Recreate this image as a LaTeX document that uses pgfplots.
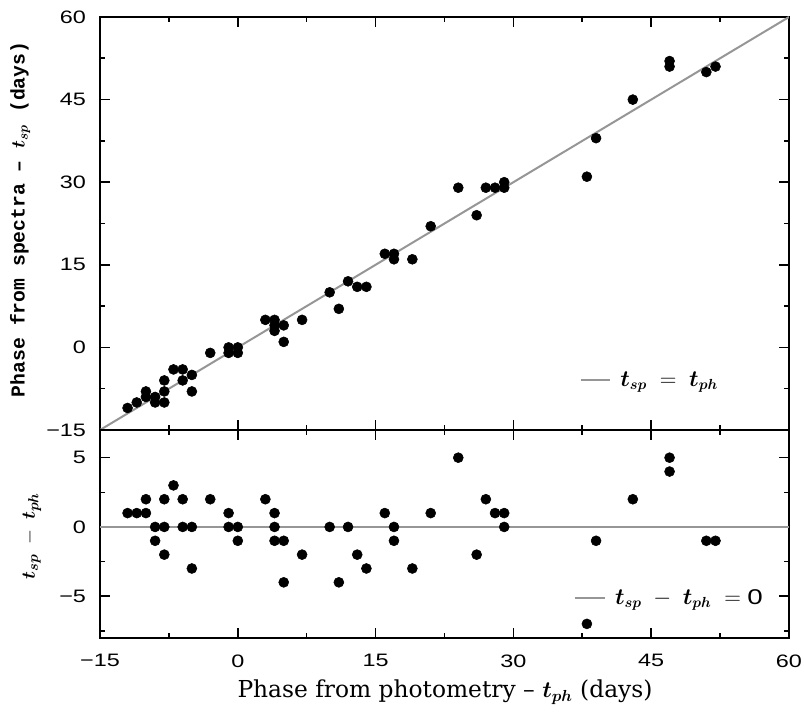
\documentclass[border=0pt]{standalone}
\usepackage{pgfplots}
\pgfplotsset{compat=1.18}
\usepackage{fontspec}
\setmainfont{Liberation Sans}
\newfontfamily\tickfont[FakeStretch=1.3]{Liberation Sans}
\newfontfamily\monofont{Liberation Mono}
\newfontfamily\seriffont{DejaVu Serif}
\usepackage{bm}
\definecolor{lgray}{RGB}{150,150,150}
\pgfplotsset{myax/.style={
  scale only axis, width=516.75pt,
  xmin=-15, xmax=60,
  xtick={-15,0,15,30,45,60},
  minor xtick={-7.5,7.5,22.5,37.5,52.5},
  axis line style={line width=1.8pt},
  major tick length=7.5pt, minor tick length=3.75pt,
  tick style={line width=1.2pt, black},
  every tick label/.append style={font=\tickfont\fontsize{13.5}{15}\selectfont},
  yticklabel style={xshift=-7pt},
  xticklabel style={yshift=-9pt},
  legend cell align=left,
  legend image code/.code={\draw[#1] (0pt,0pt) -- (22pt,0pt);},
}}
\begin{document}
\begin{tikzpicture}
\path[use as bounding box] (-75pt,-212.3pt) rectangle (528pt,322.5pt);
\begin{axis}[myax, name=top, at={(0pt,0pt)}, anchor=south west,
  height=309.75pt,
  ymin=-15, ymax=60,
  xticklabels={},
  ytick={-15,0,15,30,45,60},
  yticklabels={−15,0,15,30,45,60},
  minor ytick={-7.5,7.5,22.5,37.5,52.5},
  ylabel={{\monofont\bfseries Phase from spectra – $\bm{t_{sp}}$ (days)}},
  ylabel style={at={(axis description cs:-0.116,0.51)}, anchor=center, font=\fontsize{14.8}{16}\selectfont},
  legend style={draw=none, fill=none, at={(axis description cs:0.907,0.121)}, anchor=east, font=\fontsize{16}{18}\selectfont},
]
\addplot[lgray, line width=1.5pt] coordinates {(-15,-15) (60,60)};
\addlegendentry{\hspace{5pt}$\bm{t_{sp}}\;=\;\bm{t_{ph}}$}
\addplot[only marks, mark=*, mark size=3.75pt, black, forget plot] table {
x y
-12 -11
-11 -10
-10 -9
-10 -8
-9 -9
-9 -10
-8 -6
-8 -8
-8 -10
-7 -4
-6 -4
-6 -6
-5 -5
-5 -8
-3 -1
-1 0
-1 -1
0 0
0 -1
3 5
4 5
4 4
4 3
5 4
5 1
7 5
10 10
11 7
12 12
13 11
14 11
16 17
17 17
17 16
19 16
21 22
24 29
26 24
27 29
28 29
29 30
29 29
38 31
39 38
43 45
47 52
47 51
51 50
52 51
};
\end{axis}
\begin{axis}[myax, name=bot, at={(0pt,0pt)}, anchor=north west,
  height=155.8pt,
  ymin=-8, ymax=7,
  xticklabels={−15,0,15,30,45,60},
  ytick={-5,0,5},
  yticklabels={−5,0,5},
  minor ytick={-7.5,-2.5,2.5},
  xlabel={{\seriffont Phase from photometry – $\bm{t_{ph}}$ (days)}},
  xlabel style={at={(axis description cs:0.5007,-0.262)}, anchor=center, font=\fontsize{17.5}{19}\selectfont},
  ylabel={$\bm{t_{sp}}\;-\;\bm{t_{ph}}$},
  ylabel style={at={(axis description cs:-0.0987,0.49)}, anchor=center, font=\fontsize{15}{17}\selectfont},
  legend style={draw=none, fill=none, at={(axis description cs:0.972,0.191)}, anchor=east, font=\fontsize{16}{18}\selectfont},
]
\addplot[lgray, line width=1.5pt] coordinates {(-15,0) (60,0)};
\addlegendentry{\hspace{5pt}$\bm{t_{sp}}\;-\;\bm{t_{ph}}\;=\;${\tickfont 0}}
\addplot[only marks, mark=*, mark size=3.75pt, black, forget plot] table {
x r
-12 1
-11 1
-10 1
-10 2
-9 0
-9 -1
-8 2
-8 0
-8 -2
-7 3
-6 2
-6 0
-5 0
-5 -3
-3 2
-1 1
-1 0
0 0
0 -1
3 2
4 1
4 0
4 -1
5 -1
5 -4
7 -2
10 0
11 -4
12 0
13 -2
14 -3
16 1
17 0
17 -1
19 -3
21 1
24 5
26 -2
27 2
28 1
29 1
29 0
38 -7
39 -1
43 2
47 5
47 4
51 -1
52 -1
};
\end{axis}
\end{tikzpicture}
\end{document}
